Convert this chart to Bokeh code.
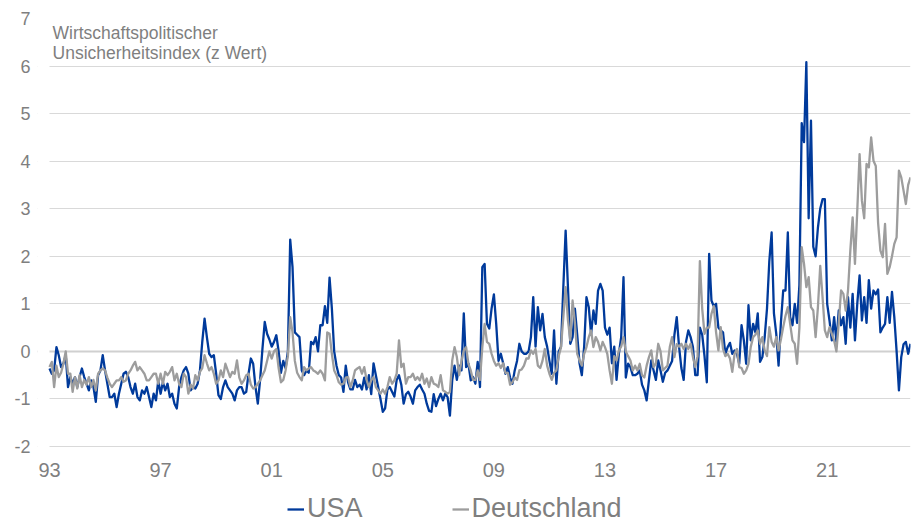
from bokeh.plotting import figure
from bokeh.models import Range1d, FixedTicker, Legend, LegendItem, Label, Span, BoxAnnotation
from bokeh.embed import file_html
from bokeh.resources import INLINE

# Monthly z-values, Jan 1993 .. Jan 2024
usa = [
    -0.36, -0.47, -0.40, 0.09, -0.08, -0.33, -0.26, -0.08, -0.75, -0.54, -0.68, -0.54,  # 1993
    -0.75, -0.54, -0.36, -0.54, -0.68, -0.82, -0.61, -0.75, -1.06, -0.50, -0.40, -0.08,  # 1994
    -0.40, -0.68, -0.96, -0.96, -0.89, -1.17, -0.89, -0.68, -0.47, -0.43, -0.54, -0.75,  # 1995
    -0.89, -0.68, -0.96, -1.03, -0.82, -0.89, -0.75, -0.96, -1.17, -0.89, -1.03, -0.61,  # 1996
    -0.89, -0.65, -0.82, -0.68, -0.96, -0.89, -1.10, -1.20, -0.75, -0.54, -0.40, -0.33,  # 1997
    -0.47, -0.82, -0.75, -0.78, -0.68, -0.40, 0.20, 0.69, 0.30, -0.05, -0.12, -0.08,  # 1998
    -0.47, -0.92, -1.00, -0.75, -0.61, -0.75, -0.82, -0.89, -1.03, -0.82, -0.75, -0.75,  # 1999
    -0.89, -0.85, -0.47, -0.15, -0.26, -0.75, -1.10, -0.60, 0.05, 0.62, 0.37, 0.25,  # 2000
    0.10, 0.20, 0.34, 0.00, -0.45, -0.20, -0.35, 0.00, 2.35, 1.77, 0.40, 0.35,  # 2001
    0.30, -0.40, -0.50, -0.40, -0.45, 0.20, 0.15, 0.30, 0.00, 0.55, 0.55, 0.95,  # 2002
    0.60, 1.55, 0.90, 0.00, -0.30, -0.50, -0.55, -0.85, -0.30, -0.65, -0.80, -0.80,  # 2003
    -0.60, -0.75, -0.70, -0.80, -0.55, -0.80, -0.50, -0.90, -0.25, -0.50, -0.75, -1.00,  # 2004
    -1.27, -1.20, -0.80, -0.75, -0.85, -0.95, -0.60, -0.50, -0.70, -1.10, -0.90, -0.85,  # 2005
    -0.95, -1.10, -0.82, -0.75, -0.70, -0.80, -0.89, -1.10, -1.25, -1.27, -0.90, -1.15,  # 2006
    -1.00, -0.89, -1.03, -0.89, -0.96, -1.35, -0.60, -0.30, -0.60, -0.30, -0.40, 0.80,  # 2007
    -0.33, -0.26, -0.61, -0.54, -0.68, -0.22, -0.75, 1.77, 1.84, 0.58, 0.48, 0.90,  # 2008
    1.20, 0.58, -0.20, -0.05, -0.25, -0.47, -0.33, -0.55, -0.68, -0.40, -0.20, 0.16,  # 2009
    0.00, -0.05, -0.05, 0.00, 0.30, 1.14, 0.10, 0.93, 0.44, 0.79, 0.30, 0.10,  # 2010
    -0.20, -0.47, 0.44, -0.68, 0.00, 0.10, 1.35, 2.54, 1.35, 0.16, 0.30, 0.90,  # 2011
    0.35, -0.25, -0.50, 0.10, 1.14, 0.93, 0.35, 0.86, 0.58, 1.28, 1.42, 1.28,  # 2012
    0.50, 0.35, 0.50, -0.25, 0.10, -0.60, -0.05, 0.30, 1.56, -0.55, -0.26, -0.33,  # 2013
    -0.50, -0.50, -0.47, -0.40, -0.70, -0.82, -1.03, -0.60, -0.19, -0.40, -0.60, -0.19,  # 2014
    -0.40, -0.64, -0.45, -0.40, -0.30, -0.20, 0.35, 0.72, 0.10, -0.35, -0.60, 0.20,  # 2015
    0.44, 0.30, 0.09, -0.50, -0.50, 0.50, 0.35, -0.10, -0.65, 2.05, 1.07, 0.95,  # 2016
    1.00, 0.50, 0.44, 0.40, -0.05, 0.09, 0.18, -0.05, 0.02, -0.05, -0.26, 0.55,  # 2017
    0.23, -0.26, 0.97, 0.23, 0.58, 0.40, 0.80, -0.22, -0.12, 0.30, 0.90, 1.90,  # 2018
    2.50, 0.80, 0.37, -0.30, 0.60, 1.28, 1.28, 2.50, 0.72, 0.55, 1.00, 0.60,  # 2019
    1.40, 4.80, 4.40, 6.08, 2.80, 4.85, 2.20, 2.00, 2.60, 3.00, 3.20, 3.20,  # 2020
    1.00, 0.65, 0.23, 0.72, 0.20, 0.86, 0.55, 0.72, 0.16, 1.14, 0.50, 1.21,  # 2021
    0.23, 1.00, 1.60, 0.65, 1.14, 0.60, 1.50, 0.90, 1.28, 1.20, 1.30, 0.40,  # 2022
    0.50, 0.58, 1.14, 0.60, 1.25, 0.72, 0.00, -0.82, -0.12, 0.15, 0.20, -0.05,  # 2023
    0.16,  # 2024
]

deutschland = [
    -0.33, -0.22, -0.75, -0.30, -0.54, -0.45, -0.26, 0.00, -0.47, -0.47, -0.85, -0.54,  # 1993
    -0.78, -0.50, -0.75, -0.60, -0.70, -0.54, -0.75, -0.60, -0.82, -0.47, -0.40, -0.36,  # 1994
    -0.40, -0.55, -0.68, -0.75, -0.68, -0.61, -0.61, -0.54, -0.64, -0.61, -0.47, -0.40,  # 1995
    -0.30, -0.22, -0.40, -0.33, -0.40, -0.47, -0.61, -0.61, -0.54, -0.47, -0.47, -0.68,  # 1996
    -0.47, -0.68, -0.43, -0.50, -0.43, -0.33, -0.61, -0.47, -0.68, -0.75, -0.47, -0.54,  # 1997
    -0.89, -0.70, -0.78, -0.50, -0.61, -0.43, -0.35, -0.08, -0.25, -0.40, -0.33, -0.47,  # 1998
    -0.68, -0.61, -0.40, -0.54, -0.26, -0.40, -0.54, -0.43, -0.47, -0.19, -0.55, -0.68,  # 1999
    -0.61, -0.50, -0.47, -0.70, -0.78, -0.75, -0.68, -0.61, -0.50, -0.40, -0.20, 0.00,  # 2000
    -0.15, 0.00, 0.05, -0.35, -0.65, -0.60, -0.40, -0.10, 0.72, 0.40, -0.20, -0.45,  # 2001
    -0.54, -0.61, -0.33, -0.40, -0.36, -0.33, -0.40, -0.43, -0.47, -0.40, -0.47, -0.61,  # 2002
    0.40, 0.37, -0.05, -0.40, -0.50, -0.65, -0.70, -0.68, -0.55, -0.54, -0.75, -0.61,  # 2003
    -0.40, -0.36, -0.33, -0.47, -0.33, -0.60, -0.75, -0.61, -0.54, -0.75, -0.82, -0.89,  # 2004
    -0.80, -0.89, -0.75, -0.54, -0.68, -0.61, -0.47, 0.23, -0.33, -0.26, -0.68, -0.54,  # 2005
    -0.54, -0.47, -0.60, -0.54, -0.61, -0.47, -0.68, -0.57, -0.75, -0.54, -0.68, -0.70,  # 2006
    -0.75, -0.50, -0.82, -0.85, -0.89, -0.85, -0.19, 0.09, -0.12, -0.50, -0.20, 0.02,  # 2007
    0.09, -0.26, -0.40, -0.60, -0.60, -0.40, -0.60, 0.09, 0.58, 0.20, 0.16, -0.05,  # 2008
    -0.20, -0.30, -0.25, -0.35, -0.25, -0.45, -0.45, -0.70, -0.65, -0.55, -0.60, -0.40,  # 2009
    -0.38, -0.30, -0.15, -0.15, 0.02, -0.05, 0.05, -0.30, -0.35, -0.20, 0.05, -0.30,  # 2010
    -0.47, -0.60, -0.45, -0.40, -0.10, 0.09, 0.72, 1.35, 0.65, 0.23, 1.07, 0.60,  # 2011
    -0.05, -0.19, -0.30, -0.05, 0.09, 0.30, 0.44, 0.09, 0.30, 0.20, 0.02, 0.20,  # 2012
    0.09, -0.05, -0.40, -0.68, -0.10, -0.19, 0.02, 0.10, 0.30, 0.00, -0.10, -0.19,  # 2013
    -0.40, -0.30, -0.40, -0.26, -0.50, -0.55, -0.30, -0.12, 0.02, -0.33, -0.25, 0.16,  # 2014
    0.00, -0.40, -0.35, -0.30, 0.09, 0.30, -0.12, 0.15, 0.10, 0.16, 0.05, 0.16,  # 2015
    0.05, 0.16, -0.12, -0.33, -0.10, 1.90, 0.90, 0.37, 0.50, 0.50, 0.79, 0.95,  # 2016
    0.40, 0.02, 0.51, 0.05, -0.10, -0.05, -0.15, -0.43, -0.05, 0.05, -0.33, -0.35,  # 2017
    -0.47, -0.40, -0.26, 0.10, 0.30, 0.35, 0.44, 0.16, 0.30, 0.02, -0.10, 0.51,  # 2018
    0.20, 0.10, 0.30, 0.02, 0.25, 0.51, 0.75, 0.93, 0.58, 0.23, 0.16, -0.26,  # 2019
    0.50, 2.19, 1.84, 1.35, 1.56, 0.93, 0.86, 0.30, 0.93, 1.80, 1.14, 0.44,  # 2020
    0.30, 0.51, 0.37, 0.23, 0.00, 0.60, 1.28, 1.21, 0.86, 1.28, 2.12, 2.82,  # 2021
    1.84, 2.96, 4.15, 3.17, 2.80, 3.94, 3.87, 4.50, 4.01, 3.90, 2.70, 2.12,  # 2022
    1.98, 2.68, 1.63, 1.77, 2.00, 2.26, 2.40, 3.80, 3.66, 3.38, 3.10, 3.50,  # 2023
    3.66,  # 2024
]

tick_months = [0, 48, 96, 144, 192, 240, 288, 336]
tick_labels = ["93", "97", "01", "05", "09", "13", "17", "21"]
y_ticks = [-2, -1, 0, 1, 2, 3, 4, 5, 6, 7]
series_names = ["USA", "Deutschland"]
title_lines = ["Wirtschaftspolitischer", "Unsicherheitsindex (z Wert)"]

months = list(range(len(usa)))

FONT = "Liberation Sans"
GREY_TXT = "#7f7f7f"
BLUE = "#003a9b"
GREY_LINE = "#9d9d9d"

# layout geometry (pixels)
FRAME_LEFT, FRAME_RIGHT = 37, 910
PLOT_LEFT = 49                      # where the first month sits
PX_PER_UNIT = (446 - 18) / 9.0
Y_BOTTOM = -2 - (522 - 446) / PX_PER_UNIT
last_m = len(usa) - 1
px_per_month = (FRAME_RIGHT - PLOT_LEFT) / last_m
X_START = -(PLOT_LEFT - FRAME_LEFT) / px_per_month

p = figure(width=917, height=522, output_backend="svg", toolbar_location=None,
           x_range=Range1d(X_START, last_m), y_range=Range1d(Y_BOTTOM, 7),
           min_border_left=FRAME_LEFT, min_border_right=917 - FRAME_RIGHT,
           min_border_top=18, min_border_bottom=0)
p.outline_line_color = None
p.background_fill_color = "white"
p.border_fill_color = "white"

# grid
p.xgrid.visible = False
p.ygrid.ticker = FixedTicker(ticks=y_ticks)
p.ygrid.grid_line_color = "#d9d9d9"
p.ygrid.grid_line_width = 1
p.add_layout(Span(location=0, dimension="width", line_color="#d0d0d0",
                  line_width=2, level="underlay"))
# keep gridlines from running left of the first month
p.add_layout(BoxAnnotation(right=0, fill_color="white", fill_alpha=1,
                           line_alpha=0, level="underlay"))

# axes
p.yaxis.ticker = FixedTicker(ticks=y_ticks)
p.yaxis.major_label_overrides = {t: str(t) for t in y_ticks}
p.yaxis.axis_line_color = None
p.yaxis.major_tick_line_color = None
p.yaxis.minor_tick_line_color = None
p.yaxis.major_tick_out = 0
p.yaxis.major_tick_in = 0
p.yaxis.major_label_standoff = 7
p.yaxis.major_label_text_font = FONT
p.yaxis.major_label_text_font_size = "18px"
p.yaxis.major_label_text_color = GREY_TXT

p.xaxis.fixed_location = -2
p.xaxis.ticker = FixedTicker(ticks=tick_months)
p.xaxis.major_label_overrides = dict(zip(tick_months, tick_labels))
p.xaxis.axis_line_color = None
p.xaxis.major_tick_line_color = None
p.xaxis.minor_tick_line_color = None
p.xaxis.major_tick_out = 0
p.xaxis.major_tick_in = 0
p.xaxis.major_label_standoff = 16
p.xaxis.major_label_text_font = FONT
p.xaxis.major_label_text_font_size = "20px"
p.xaxis.major_label_text_color = GREY_TXT

r_us = p.line(months, usa, line_color=BLUE, line_width=2.3, line_join="round")
r_de = p.line(months, deutschland, line_color=GREY_LINE, line_width=2.3, line_join="round")

legend = Legend(items=[LegendItem(label=series_names[0], renderers=[r_us]),
                       LegendItem(label=series_names[1], renderers=[r_de])],
                orientation="horizontal", location=(238 + PLOT_LEFT - FRAME_LEFT, -2),
                padding=0, margin=0, spacing=89,
                glyph_width=17, glyph_height=20, label_standoff=3,
                label_text_font=FONT, label_text_font_size="27px",
                label_text_color=GREY_TXT,
                border_line_color=None, background_fill_alpha=0)
p.add_layout(legend, "center")

p.add_layout(Label(x=1.3, y=6.7, text=title_lines[0], text_font=FONT,
                   text_font_size="17.5px", text_color=GREY_TXT,
                   text_baseline="alphabetic"))
p.add_layout(Label(x=1.3, y=6.27, text=title_lines[1], text_font=FONT,
                   text_font_size="17.5px", text_color=GREY_TXT,
                   text_baseline="alphabetic"))

open("out.html", "w").write(file_html(p, INLINE))
